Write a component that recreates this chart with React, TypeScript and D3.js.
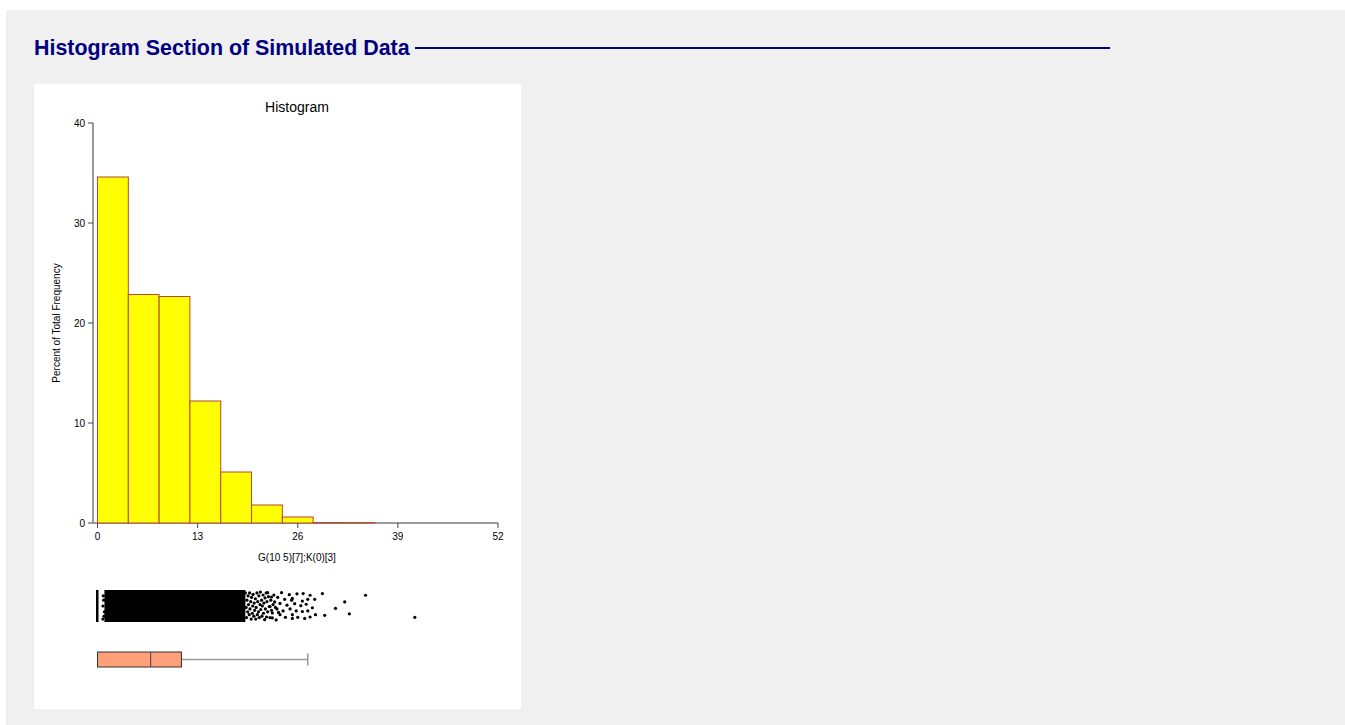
import React from "react";
import * as d3 from "d3";

// ---- data ----
const binStarts = [0, 4, 8, 12, 16, 20, 24, 28, 32];
const binWidth = 4;
const percents = [34.6, 22.85, 22.65, 12.2, 5.1, 1.8, 0.6, 0.05, 0.04];
const xTicks = [0, 13, 26, 39, 52];
const yTicks = [0, 10, 20, 30, 40];

// box plot summary
const boxMin = 0;
const boxQ1 = 0;
const boxMedian = 6.9;
const boxQ3 = 10.9;
const boxUpperWhisker = 27.3;

// dot plot: dense core range (solid) and individual points [value, jitter 0..1]
const coreRange = [0.9, 19.2];
const zeroValue = 0;
const dotValues = [
  0.8, 0.7, 0.9, 0.75, 0.85, 0.7,
  19.2, 19.3, 19.35, 19.4, 19.5, 19.55, 19.6, 19.7, 19.75, 19.8, 19.9, 19.95, 20.0, 20.1,
  20.15, 20.2, 20.3, 20.35, 20.4, 20.5, 20.55, 20.6, 20.7, 20.75, 20.8, 20.9, 20.95, 21.0,
  21.1, 21.15, 21.2, 21.3, 21.35, 21.4, 21.5, 21.55, 21.6, 21.7, 21.75, 21.8, 21.9, 21.95,
  22.0, 22.1, 22.2, 22.3, 22.4, 22.5, 22.6, 22.8, 22.9, 23.1, 23.2, 23.4, 23.5,
  23.9, 24.9, 24.3, 25.2, 23.7, 24.6, 23.3, 24.1, 25.0, 23.7, 24.4, 25.3, 22.7, 22.6,
  23.0, 22.4, 22.7, 22.1,
  25.9, 26.7, 27.6, 29.2, 25.3, 26.6, 27.3, 28.2, 25.6, 26.4, 27.1, 27.9, 32.1, 34.8,
  30.9, 25.8, 26.6, 27.3, 25.3, 26.0, 26.9, 27.6, 28.3, 29.5, 32.7, 41.2,
];
const dotJitter = [
  0.3, 0.5, 0.7, 0.15, 0.85, 0.95,
  0.05, 0.55, 0.9, 0.3, 0.7, 0.15, 0.45, 0.8, 0.05, 0.6, 0.35, 0.95, 0.2, 0.75,
  0.5, 0.1, 0.85, 0.4, 0.65, 0.25, 0.95, 0.55, 0.05, 0.8, 0.35, 0.7, 0.15, 0.9,
  0.45, 0.02, 0.62, 0.3, 0.85, 0.5, 0.12, 0.75, 0.4, 0.97, 0.22, 0.6, 0.05, 0.88,
  0.35, 0.7, 0.18, 0.52, 0.9, 0.3, 0.65, 0.45, 0.12, 0.55, 0.98, 0.2, 0.72,
  0.04, 0.11, 0.27, 0.3, 0.41, 0.47, 0.6, 0.67, 0.6, 0.8, 0.89, 0.93, 0.91, 0.19,
  0.36, 0.52, 0.74, 0.04,
  0.08, 0.07, 0.13, 0.07, 0.24, 0.33, 0.27, 0.27, 0.42, 0.49, 0.44, 0.56, 0.36, 0.13,
  0.58, 0.67, 0.69, 0.67, 0.8, 0.89, 0.93, 0.88, 0.8, 0.82, 0.77, 0.89,
];

const sectionTitle = "Histogram Section of Simulated Data";
const chartTitle = "Histogram";
const xTitle = "G(10 5)[7];K(0)[3]";
const yTitle = "Percent of Total Frequency";

const FONT = "Arial, 'Liberation Sans', sans-serif";

export default function App() {
  const x = d3.scaleLinear().domain([0, 52]).range([97.5, 498]);
  const y = d3.scaleLinear().domain([0, 40]).range([523, 123]);
  const jy = d3.scaleLinear().domain([0, 1]).range([591.5, 620.5]);
  const axisX = 93;

  return (
    <svg
      width={1345}
      height={725}
      style={{ position: "absolute", left: 0, top: 0, display: "block" }}
      fontFamily={FONT}
    >
      <rect x={0} y={0} width={1345} height={725} fill="#ffffff" />
      <rect x={6} y={10} width={1339} height={715} fill="#f0f0f0" />
      <text x={34} y={55} fontSize={21.4} fontWeight="bold" fill="#000080">
        {sectionTitle}
      </text>
      <line x1={415} x2={1110} y1={48} y2={48} stroke="#000080" strokeWidth={2} />

      <rect x={34} y={84} width={487} height={625} fill="#ffffff" />

      <text x={297} y={112} fontSize={14} textAnchor="middle" fill="#000">
        {chartTitle}
      </text>

      {/* y axis */}
      <line x1={axisX} x2={axisX} y1={y(40)} y2={y(0)} stroke="#9a9a9a" strokeWidth={2} />
      {yTicks.map((t) => (
        <g key={t}>
          <line x1={axisX - 5} x2={axisX} y1={y(t)} y2={y(t)} stroke="#444" strokeWidth={1} />
          <text x={axisX - 8} y={y(t) + 3.5} fontSize={10} textAnchor="end" fill="#000">
            {t}
          </text>
        </g>
      ))}
      {/* x axis */}
      <line x1={axisX} x2={x(52)} y1={y(0)} y2={y(0)} stroke="#9a9a9a" strokeWidth={2} />
      {xTicks.map((t) => (
        <g key={t}>
          <line x1={x(t)} x2={x(t)} y1={y(0)} y2={y(0) + 5} stroke="#444" strokeWidth={1} />
          <text x={x(t)} y={540} fontSize={10} textAnchor="middle" fill="#000">
            {t}
          </text>
        </g>
      ))}

      {/* bars */}
      {binStarts.map((b, i) => (
        <rect
          key={i}
          x={x(b)}
          y={y(percents[i])}
          width={x(b + binWidth) - x(b)}
          height={y(0) - y(percents[i])}
          fill="#ffff00"
          stroke="#b5473a"
          strokeWidth={1}
        />
      ))}

      <text x={297} y={561} fontSize={10} textAnchor="middle" fill="#000">
        {xTitle}
      </text>
      <text
        transform={`translate(60,323) rotate(-90)`}
        fontSize={10}
        textAnchor="middle"
        fill="#000"
      >
        {yTitle}
      </text>

      {/* dot plot */}
      <rect x={x(zeroValue) - 1.5} y={590} width={2.5} height={32} fill="#000" />
      <rect
        x={x(coreRange[0])}
        y={590}
        width={x(coreRange[1]) - x(coreRange[0])}
        height={32}
        fill="#000"
      />
      {dotValues.map((v, i) => (
        <circle key={i} cx={x(v)} cy={jy(dotJitter[i])} r={1.6} fill="#000" />
      ))}

      {/* box plot */}
      <line
        x1={x(boxQ3)}
        x2={x(boxUpperWhisker)}
        y1={659.5}
        y2={659.5}
        stroke="#999"
        strokeWidth={1.5}
      />
      <line
        x1={x(boxUpperWhisker)}
        x2={x(boxUpperWhisker)}
        y1={653.5}
        y2={665.5}
        stroke="#999"
        strokeWidth={1.5}
      />
      <line x1={x(boxMin)} x2={x(boxQ1)} y1={659.5} y2={659.5} stroke="#999" />
      <rect
        x={x(boxQ1)}
        y={652}
        width={x(boxQ3) - x(boxQ1)}
        height={15}
        fill="#ffa07a"
        stroke="#333"
        strokeWidth={1}
      />
      <line x1={x(boxMedian)} x2={x(boxMedian)} y1={652} y2={667} stroke="#444" strokeWidth={1} />
    </svg>
  );
}
